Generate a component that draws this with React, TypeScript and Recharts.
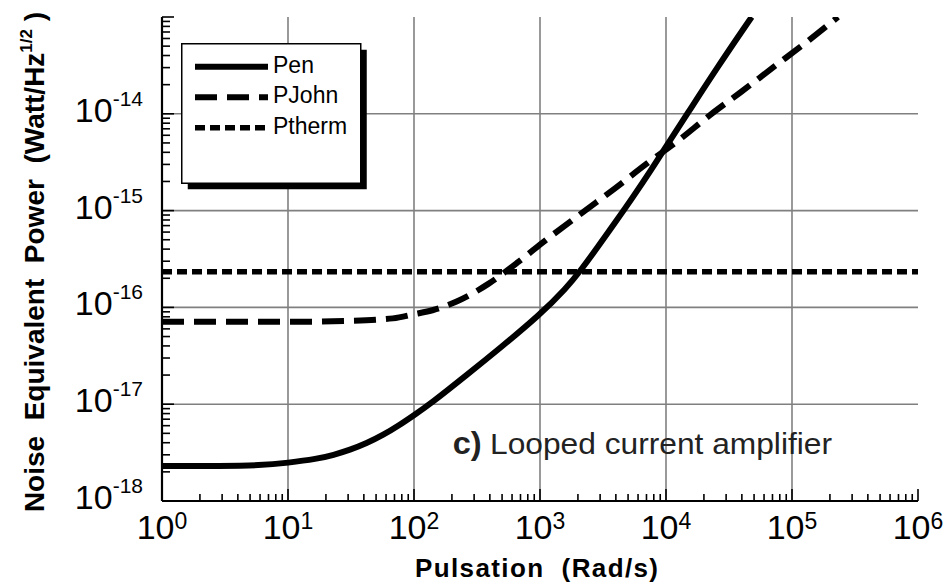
import React from "react";
import { LineChart, Line, XAxis, YAxis, CartesianGrid, Legend, Customized } from "recharts";

const FONT = "'Liberation Sans', Arial, Helvetica, sans-serif";

// Pulsation (rad/s) and noise equivalent power (W/Hz^1/2)
const penOmega = [1, 3, 6, 10, 17, 23, 31, 42, 57, 77, 100, 134, 262, 482, 1000, 1630, 2076, 2818, 3937, 5346, 7730, 10000, 14690, 25240, 47860];
const penNep = [2.3e-18, 2.3e-18, 2.33e-18, 2.48e-18, 2.72e-18, 2.99e-18, 3.37e-18, 3.94e-18, 4.81e-18, 6.1e-18, 7.7e-18, 1.0e-17, 2.0e-17, 3.8e-17, 8.4e-17, 1.6e-16, 2.36e-16, 4.05e-16, 7.5e-16, 1.32e-15, 2.7e-15, 4.6e-15, 9.9e-15, 2.95e-14, 1.0e-13];

const johnOmega = [1, 10, 30, 68, 100, 142, 218, 389, 673, 1000, 2183, 3937, 7030, 12530, 22340, 39370, 70000, 126800, 231900];
const johnNep = [7.1e-17, 7.1e-17, 7.25e-17, 7.7e-17, 8.5e-17, 9.4e-17, 1.15e-16, 1.75e-16, 2.95e-16, 4.45e-16, 9.6e-16, 1.7e-15, 3.05e-15, 5.3e-15, 9.7e-15, 1.68e-14, 2.98e-14, 5.35e-14, 1.0e-13];

const thermOmega = [1, 1e6];
const thermNep = [2.34e-16, 2.34e-16];

const xDecades = [1, 10, 100, 1e3, 1e4, 1e5, 1e6];
const xExponents = ["0", "1", "2", "3", "4", "5", "6"];
const yDecades = [1e-18, 1e-17, 1e-16, 1e-15, 1e-14, 1e-13];
const yExponents = ["-18", "-17", "-16", "-15", "-14", ""];

const withMinors = (decades: number[]) => {
  const out: number[] = [];
  decades.forEach((d, i) => {
    if (i === decades.length - 1) out.push(d);
    else for (let m = 1; m < 10; m++) out.push(m * d);
  });
  return out;
};
const xTicks = withMinors(xDecades);
const yTicks = withMinors(yDecades);

const toRows = (xs: number[], ys: number[]) => xs.map((omega, i) => ({ omega, nep: ys[i] }));
const penData = toRows(penOmega, penNep);
const johnData = toRows(johnOmega, johnNep);
const thermData = toRows(thermOmega, thermNep);

const legendItems = [
  { name: "Pen", dash: undefined as string | undefined, width: 6 },
  { name: "PJohn", dash: "22 10", width: 6 },
  { name: "Ptherm", dash: "10 5", width: 5.5 },
];

const TICK = { stroke: "#000", strokeWidth: 1.6 };

function bottomTick(p: any) {
  const { x, y, payload } = p;
  const i = xDecades.indexOf(payload.value);
  const major = i >= 0;
  return (
    <g>
      <line x1={x} x2={x} y1={y} y2={y - (major ? 12 : 7)} {...TICK} />
      {major && (
        <text x={x} y={y + 38} textAnchor="middle" fontFamily={FONT} fontSize={34} fill="#000">
          10<tspan dy={-10} fontSize={23}>{xExponents[i]}</tspan>
        </text>
      )}
    </g>
  );
}

function topTick(p: any) {
  const { x, y, payload } = p;
  const major = xDecades.indexOf(payload.value) >= 0;
  return <line x1={x} x2={x} y1={y} y2={y + (major ? 13 : 7)} {...TICK} />;
}

function leftTick(p: any) {
  const { x, y, payload } = p;
  const i = yDecades.indexOf(payload.value);
  const major = i >= 0;
  return (
    <g>
      <line x1={x} x2={x + (major ? 12 : 8)} y1={y} y2={y} {...TICK} />
      {major && yExponents[i] && (
        <text x={x - 19} y={y + 8} textAnchor="end" fontFamily={FONT} fontSize={34} fill="#000">
          10<tspan dy={-16} fontSize={21}>{yExponents[i]}</tspan>
        </text>
      )}
    </g>
  );
}

function rightTick(p: any) {
  const { x, y, payload } = p;
  const major = yDecades.indexOf(payload.value) >= 0;
  return <line x1={x} x2={x - (major ? 12 : 7)} y1={y} y2={y} {...TICK} />;
}

function LegendBox() {
  return (
    <svg width={190} height={150} style={{ display: "block" }}>
      <rect x={6.75} y={6.75} width={179} height={139.5} fill="#000" />
      <rect x={0.75} y={0.75} width={179} height={139.5} fill="#fff" stroke="#000" strokeWidth={1.5} />
      {legendItems.map((it, i) => {
        const ly = 23.7 + i * 30.5;
        return (
          <g key={it.name}>
            <line x1={14} x2={87} y1={ly} y2={ly} stroke="#000" strokeWidth={it.width} strokeDasharray={it.dash} />
            <text x={92} y={ly + 6} fontFamily={FONT} fontSize={23} fill="#000">{it.name}</text>
          </g>
        );
      })}
    </svg>
  );
}

const YTitle = () => (
  <text
    transform="translate(44,262) rotate(-90)"
    textAnchor="middle"
    fontFamily={FONT}
    fontWeight="bold"
    fontSize={28}
    fill="#000"
    style={{ whiteSpace: "pre" }}
  >
    {"Noise  Equivalent  Power  (Watt/Hz"}
    <tspan dy={-12} fontSize={17}>1/2</tspan>
    <tspan dy={12}>{" )"}</tspan>
  </text>
);

const XTitle = () => (
  <text
    x={536.5}
    y={577}
    textAnchor="middle"
    fontFamily={FONT}
    fontWeight="bold"
    fontSize={26}
    fill="#000"
    textLength={243}
    lengthAdjust="spacing"
    style={{ whiteSpace: "pre" }}
  >
    {"Pulsation  (Rad/s)"}
  </text>
);

const Annotation = () => (
  <g fontFamily={FONT} fill="#222">
    <text x={452.7} y={454.3} fontWeight="bold" fontSize={32} textLength={29} lengthAdjust="spacingAndGlyphs">c)</text>
    <text x={490} y={454.3} fontSize={29} textLength={342} lengthAdjust="spacingAndGlyphs">Looped current amplifier</text>
  </g>
);

export default function App() {
  return (
    <div style={{ position: "absolute", left: 0, top: 0, background: "#fff" }}>
      <LineChart width={949} height={587} margin={{ top: 17, right: 31, bottom: 0, left: 0 }}>
        <CartesianGrid
          verticalValues={xDecades.slice(1, -1)}
          horizontalValues={yDecades.slice(1, -1)}
          stroke="#808080"
          strokeWidth={1.6}
        />
        <XAxis
          dataKey="omega"
          type="number"
          scale="log"
          domain={[1, 1e6]}
          allowDataOverflow
          ticks={xTicks}
          interval={0}
          tickSize={0}
          tickMargin={0}
          tickLine={false}
          tick={bottomTick}
          axisLine={{ stroke: "#000", strokeWidth: 2.2 }}
          height={86}
          label={{ content: XTitle }}
        />
        <XAxis
          xAxisId="top"
          orientation="top"
          dataKey="omega"
          type="number"
          scale="log"
          domain={[1, 1e6]}
          allowDataOverflow
          ticks={xTicks}
          interval={0}
          tickSize={0}
          tickMargin={0}
          tickLine={false}
          tick={topTick}
          axisLine={{ stroke: "#000", strokeWidth: 2.2 }}
          height={0}
        />
        <YAxis
          type="number"
          scale="log"
          domain={[1e-18, 1e-13]}
          allowDataOverflow
          ticks={yTicks}
          interval={0}
          tickSize={0}
          tickMargin={0}
          tickLine={false}
          tick={leftTick}
          axisLine={{ stroke: "#000", strokeWidth: 2.2 }}
          width={162}
          label={{ content: YTitle }}
        />
        <YAxis
          yAxisId="right"
          orientation="right"
          type="number"
          scale="log"
          domain={[1e-18, 1e-13]}
          allowDataOverflow
          ticks={yTicks}
          interval={0}
          tickSize={0}
          tickMargin={0}
          tickLine={false}
          tick={rightTick}
          axisLine={{ stroke: "#000", strokeWidth: 2.2 }}
          width={0}
        />
        <Line data={thermData} dataKey="nep" name="Ptherm" type="linear" stroke="#000" strokeWidth={5.5} strokeDasharray="10 5" dot={false} activeDot={false} isAnimationActive={false} />
        <Line data={johnData} dataKey="nep" name="PJohn" type="monotone" stroke="#000" strokeWidth={6} strokeDasharray="22 10" dot={false} activeDot={false} isAnimationActive={false} />
        <Line data={penData} dataKey="nep" name="Pen" type="basis" stroke="#000" strokeWidth={6} dot={false} activeDot={false} isAnimationActive={false} />
        <Customized component={Annotation} />
        <Legend
          layout="vertical"
          align="center"
          verticalAlign="middle"
          content={() => <LegendBox />}
          wrapperStyle={{ left: 181, top: 43, width: 190, height: 150 }}
        />
      </LineChart>
    </div>
  );
}
